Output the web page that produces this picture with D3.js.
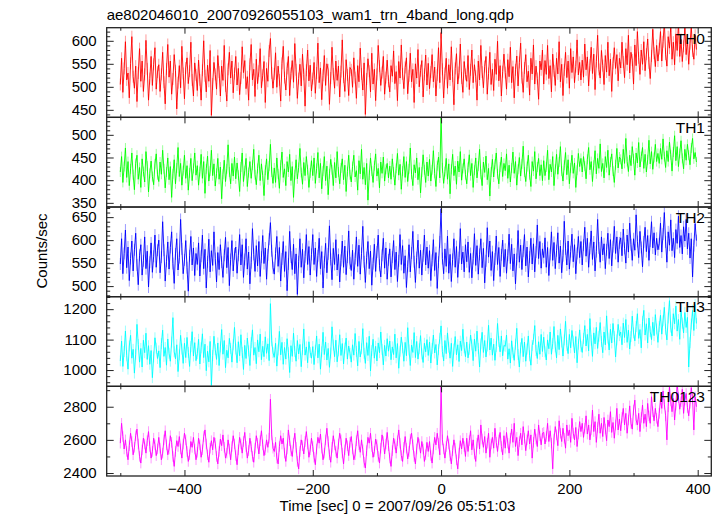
<!DOCTYPE html>
<html><head><meta charset="utf-8">
<script src="https://cdn.jsdelivr.net/npm/d3@7"></script>
<style>body{margin:0;background:#fff}svg{display:block}text{font-family:"Liberation Sans",Arial,sans-serif}</style>
</head><body><svg id="c" width="724" height="516"></svg>
<script>
const title = "ae802046010_20070926055103_wam1_trn_4band_long.qdp";
const xLabel = "Time [sec] 0 = 2007/09/26 05:51:03";
const yLabel = "Counts/sec";
const bandNames = ["TH0","TH1","TH2","TH3","TH0123"];
const bandColors = ["#ff0000","#00ff00","#0000ff","#00ffff","#ff00ff"];
const yDomains = [[433.6,628.5],[340.8,538.5],[477,672],[946.5,1241],[2382,2923]];
const yMajor = [50,50,50,100,200];
const yMinor = [10,10,10,20,100];
const xDomain = [-521.2,421.2];
const xTicksMajor = [-400,-200,0,200,400];
const xTicksMinor = [-500,-300,-100,100,300];
const tStart = -500, tStep = 2;
const errHalf = [13,11,13,18,32];

const th0 = [
505,562,488,540,598,515,530,476,551,609,522,497,545,468,530,583,512,556,490,527,601,539,471,518,566,503,549,585,495,532,
548,490,527,575,510,463,539,592,521,556,484,517,570,535,452,509,546,498,588,529,474,541,563,507,534,597,515,480,552,526,
492,558,515,471,536,600,524,489,547,512,579,438,506,553,527,495,568,532,480,545,514,590,502,469,538,575,519,556,487,529,
566,504,540,483,519,587,531,557,496,522,471,549,592,515,538,479,560,507,534,583,498,525,555,466,540,512,578,605,530,497,
528,574,499,545,515,469,551,588,520,493,540,566,481,529,557,510,594,537,475,518,549,502,571,527,458,536,580,513,547,491,
518,553,486,530,595,509,541,472,525,568,503,550,537,462,519,586,528,497,556,514,545,478,533,602,521,490,559,526,481,542,
537,499,563,520,475,546,511,584,528,493,552,440,517,561,534,489,573,506,538,470,527,590,545,503,531,566,484,520,558,512,
489,546,523,578,507,533,470,555,519,591,528,496,542,563,485,524,573,511,538,466,550,519,581,500,535,557,478,527,569,504,
551,496,532,570,511,543,480,526,585,509,618,538,476,529,562,497,548,515,587,523,461,540,572,506,531,593,519,488,555,527,
512,568,494,537,580,509,548,523,471,556,515,590,532,498,544,566,484,529,575,505,538,492,560,527,599,513,546,480,533,571,
531,495,559,522,586,509,544,476,537,567,502,553,595,520,488,541,570,511,534,482,562,528,591,506,545,518,473,556,537,580,
506,557,527,590,518,546,489,571,535,503,562,528,598,511,549,481,537,575,520,556,497,583,531,565,509,544,602,526,553,515,
558,521,593,537,565,502,547,586,529,571,494,555,612,538,519,579,546,505,568,532,597,524,560,490,551,585,540,570,513,562,
541,597,554,520,583,548,612,530,575,558,506,591,546,620,563,527,580,549,598,535,571,604,552,518,567,625,573,544,590,556,
583,620,556,598,641,571,545,609,584,632,560,597,548,615,579,640,566,603,555,588,628,570,602,549,594,631,578,560,612,581];

const th1 = [
418,452,395,430,471,406,441,388,425,460,412,379,437,455,402,428,384,447,419,396,463,431,374,415,442,408,390,436,458,412,
397,440,413,466,425,383,418,449,401,430,362,414,445,392,427,472,408,437,389,421,455,404,432,378,416,448,399,426,460,411,
432,389,419,457,404,441,371,425,453,398,420,466,410,436,387,415,448,402,429,359,413,444,397,425,478,418,392,437,409,451,
403,438,411,375,429,460,397,421,448,386,417,441,404,433,468,412,390,426,455,399,436,410,366,422,447,401,431,479,418,393,
427,395,449,414,382,433,462,406,425,388,441,418,457,399,430,362,412,445,403,428,470,417,391,439,410,452,423,384,416,443,
410,449,393,426,461,405,437,381,420,452,399,431,368,414,446,423,388,439,405,463,418,392,427,447,401,433,375,419,455,412,
396,430,455,407,421,378,443,414,468,402,428,390,437,356,411,449,420,395,432,458,409,426,383,440,415,451,398,424,437,405,
431,402,447,418,389,426,459,411,435,380,420,452,406,441,397,425,471,413,388,434,416,449,401,428,372,418,456,423,395,440,
409,446,398,423,465,415,386,432,451,405,545,427,393,419,448,402,436,370,424,457,410,431,391,442,418,463,400,426,447,412,
392,428,456,410,437,384,422,449,405,431,468,413,388,440,417,453,401,426,365,418,446,407,435,460,414,392,429,451,408,437,
421,458,404,433,396,427,462,415,441,389,424,450,409,436,475,418,397,430,455,412,386,441,420,463,403,429,448,410,434,399,
443,410,429,466,401,435,418,452,388,424,457,413,440,474,420,398,433,461,412,445,392,427,455,415,438,384,422,459,430,448,
418,452,431,403,446,472,423,441,397,433,465,414,448,426,480,419,437,405,452,428,466,411,440,458,420,395,434,470,427,451,
446,425,468,437,492,441,419,455,432,474,447,411,460,438,483,429,452,472,426,457,418,445,488,436,463,424,450,479,441,459,
437,470,446,491,452,428,465,441,484,456,420,462,498,443,474,430,459,487,448,425,468,444,479,455,434,471,492,447,461,440];

const th2 = [
548,603,527,571,622,540,585,512,560,598,533,579,615,546,503,567,590,524,555,607,538,576,498,552,594,530,565,611,541,578,
600,529,563,640,578,511,554,596,537,584,618,549,506,570,603,535,562,645,581,527,557,599,540,489,566,608,546,583,523,571,
547,594,522,565,611,538,580,496,553,602,531,577,545,618,560,509,573,536,590,552,519,567,606,540,584,501,558,599,533,570,
585,528,567,612,546,590,519,558,603,537,574,505,551,625,569,532,588,544,597,521,563,610,549,583,515,568,602,638,577,540,
526,571,608,543,584,511,559,597,532,575,490,548,619,563,536,591,527,570,482,553,603,541,580,518,564,612,547,586,524,569,
612,547,583,521,566,604,538,575,496,552,593,529,570,631,558,514,582,547,601,535,569,509,556,598,541,587,525,563,620,550,
534,578,515,560,607,543,589,526,571,630,553,508,562,597,538,576,502,549,591,532,574,611,545,520,567,604,539,583,515,557,
581,520,563,599,536,574,510,555,612,547,588,528,566,497,543,590,531,572,619,553,508,562,600,539,578,524,566,611,546,585,
539,577,512,556,601,534,573,495,552,596,668,560,527,581,543,609,528,569,510,558,603,541,586,519,562,625,548,574,531,590,
553,596,530,571,518,560,614,545,588,526,569,603,540,582,507,555,627,563,598,534,575,512,559,609,547,584,521,568,600,542,
580,528,567,613,549,591,533,570,505,558,621,552,589,536,576,612,544,585,520,563,604,548,592,531,574,633,560,597,539,581,
562,605,541,584,523,569,618,556,595,538,577,616,550,587,529,566,641,581,546,598,537,575,613,553,590,527,571,608,562,597,
546,589,628,565,604,541,582,620,558,596,533,575,645,583,552,607,568,592,538,579,615,560,601,544,586,630,571,607,552,594,
605,566,624,582,550,611,574,637,590,556,603,578,655,597,562,619,584,542,596,628,575,610,556,598,640,583,616,568,604,579,
592,637,574,613,660,596,552,618,589,644,577,604,562,623,593,652,584,610,570,629,598,645,581,615,561,603,520,588,636,599];

const th3 = [
1030,1095,1012,1061,1128,1047,1003,1079,1114,1039,1068,990,1052,1150,1084,1026,1071,1010,1098,1057,1121,1035,1080,1019,1064,975,1043,1106,1072,1038,
1063,1008,1087,1131,1045,1074,1016,1102,1055,1029,1092,1172,1060,1037,1083,995,1050,1114,1069,1022,1088,1041,1107,1058,1012,1077,1126,1046,1090,1031,
1054,1101,1020,1073,1119,1041,1085,998,1062,1027,1094,950,1048,1111,1067,1035,1089,1015,1076,1133,1052,1097,1008,1065,1040,1104,1071,1026,1083,1140,
1069,1024,1093,1047,1116,1058,1002,1081,1038,1105,1063,1015,1090,1132,1049,1074,1021,1099,1060,1118,1034,1078,1044,1109,1055,1086,1031,1218,1096,1057,
1042,1088,1013,1066,1127,1050,1091,1019,1074,1036,1103,1057,992,1080,1045,1121,1061,1029,1097,1053,1084,1011,1068,1135,1049,1076,1024,1093,1058,1039,
1077,1018,1065,1112,1040,1085,1003,1060,1124,1051,1092,1033,1071,1009,1056,1142,1082,1044,1098,1027,1063,1116,1048,1087,1020,1072,1105,1036,1079,1055,
1026,1083,1049,1120,1061,1014,1094,1043,1070,1136,1055,1022,1090,1048,1111,997,1064,1101,1039,1078,1030,1089,1057,1125,1068,1017,1081,1046,1103,1062,
1095,1034,1076,1051,1118,1040,1087,1006,1062,1108,1073,1029,1091,1047,1139,1066,1015,1082,1058,1123,1041,1094,1036,1070,1113,1053,1025,1088,1060,1100,
1048,1092,1023,1071,1115,1056,1084,1017,1067,1104,1145,1061,1030,1097,1054,1122,1075,1039,1088,1012,1069,1110,1050,1083,1028,1095,1064,1134,1073,1044,
1092,1040,1068,1115,1083,1031,1102,1062,1128,1071,1010,1086,1124,1058,1097,1043,1079,1147,1066,1105,1049,1085,1032,1077,1153,1094,1060,1112,1047,1081,
1078,1115,1036,1070,1023,1096,1057,1032,1085,1137,1051,1010,1073,1104,1044,1092,1029,1069,1112,1047,1016,1081,1101,1146,1064,1038,1093,1052,1117,1061,
1108,1060,1033,1099,1070,1125,1052,1087,1143,1076,1040,1114,1067,1135,1092,1046,1099,1160,1081,1054,1117,1073,1130,1095,1056,1110,1024,1085,1132,1078,
1058,1104,1146,1079,1117,1063,1169,1098,1045,1122,1086,1140,1071,1111,1156,1094,1057,1125,1083,1178,1105,1066,1134,1089,1153,1110,1043,1099,1150,1113,
1125,1083,1154,1107,1166,1091,1131,1069,1110,1177,1122,1096,1143,1185,1104,1133,1073,1160,1196,1115,1152,1089,1171,1126,1100,1157,1113,1182,1135,1091,
1143,1180,1118,1162,1206,1134,1099,1171,1228,1141,1112,1185,1152,1210,1128,1166,1101,1195,1154,1122,1189,1140,1173,1010,1090,1151,1196,1130,1215,1153];

const th0123 = [
2580,2700,2620,2545,2600,2530,2480,2565,2640,2590,2510,2555,2625,2665,2575,2500,2460,2540,2610,2575,2520,2595,2650,2560,2490,2530,2610,2570,2505,2545,
2615,2550,2480,2520,2600,2655,2570,2510,2545,2625,2585,2500,2440,2530,2595,2560,2620,2545,2490,2575,2640,2600,2530,2470,2510,2590,2555,2615,2545,2480,
2525,2610,2570,2495,2540,2620,2660,2575,2510,2465,2550,2595,2540,2615,2580,2500,2455,2530,2605,2565,2630,2555,2490,2520,2600,2545,2480,2560,2625,2575,
2505,2450,2540,2615,2575,2520,2590,2645,2560,2490,2535,2610,2560,2500,2465,2550,2625,2580,2515,2595,2655,2570,2505,2540,2600,2555,2610,2845,2630,2550,
2530,2585,2490,2455,2560,2625,2575,2610,2520,2470,2545,2660,2595,2535,2500,2580,2640,2555,2470,2425,2530,2600,2565,2515,2590,2650,2575,2495,2540,2610,
2560,2495,2450,2545,2615,2580,2635,2550,2480,2520,2600,2670,2590,2510,2465,2555,2625,2570,2530,2490,2575,2640,2600,2520,2455,2540,2610,2565,2505,2585,
2620,2545,2480,2510,2595,2655,2570,2525,2600,2540,2465,2430,2535,2615,2580,2640,2560,2495,2530,2605,2570,2500,2460,2550,2630,2590,2515,2575,2645,2565,
2490,2440,2535,2610,2575,2520,2595,2660,2580,2505,2470,2555,2620,2550,2485,2530,2605,2640,2570,2500,2455,2545,2615,2575,2520,2590,2545,2470,2510,2585,
2530,2590,2505,2460,2545,2615,2570,2640,2580,2510,2925,2600,2545,2490,2560,2625,2575,2505,2455,2535,2600,2550,2480,2425,2520,2595,2545,2610,2560,2500,
2610,2530,2595,2655,2540,2600,2515,2470,2580,2630,2545,2690,2605,2555,2620,2520,2580,2640,2495,2575,2615,2550,2670,2585,2530,2600,2645,2560,2510,2625,
2550,2645,2580,2520,2610,2665,2585,2700,2560,2615,2505,2590,2640,2570,2680,2610,2535,2600,2655,2575,2630,2490,2585,2665,2605,2560,2690,2625,2570,2640,
2645,2575,2620,2700,2590,2655,2580,2425,2605,2680,2630,2565,2715,2640,2590,2670,2610,2550,2690,2625,2660,2585,2730,2640,2600,2675,2560,2635,2710,2650,
2700,2615,2670,2745,2635,2690,2600,2660,2780,2650,2710,2585,2675,2755,2640,2700,2620,2735,2665,2595,2720,2680,2770,2645,2705,2610,2690,2790,2660,2725,
2655,2735,2790,2690,2760,2640,2720,2805,2700,2665,2780,2840,2720,2690,2760,2650,2735,2810,2700,2755,2680,2820,2745,2700,2860,2770,2715,2790,2730,2680,
2760,2845,2790,2895,2815,2745,2600,2800,2920,2835,2770,2850,2720,2810,2940,2855,2785,2830,2905,2760,2840,2880,2795,2745,2820,2915,2850,2660,2860,2800];

const series = [th0, th1, th2, th3, th0123];

const svg = d3.select("#c");
const L = 106.7, R = 711.3, T0 = 27.7, PH = 89.66;
const x = d3.scaleLinear().domain(xDomain).range([L, R]);
const frame = "#222";
const FONT = "Liberation Sans, Arial, sans-serif";

svg.append("text").attr("x", L).attr("y", 20).attr("font-size", 15).attr("fill", "#000").text(title);

series.forEach((vals, k) => {
  const top = T0 + k * PH, bot = top + PH;
  const y = d3.scaleLinear().domain(yDomains[k]).range([bot, top]);
  const g = svg.append("g");
  const cid = "clip" + k;
  svg.append("clipPath").attr("id", cid).append("rect").attr("x", L).attr("y", top).attr("width", R - L).attr("height", PH);
  const data = vals.map((v, i) => ({t: tStart + i * tStep, v}));
  const dg = g.append("g").attr("clip-path", `url(#${cid})`);
  dg.selectAll("line.err").data(data).join("line").attr("class", "err")
    .attr("x1", d => x(d.t)).attr("x2", d => x(d.t))
    .attr("y1", d => y(d.v - errHalf[k])).attr("y2", d => y(d.v + errHalf[k]))
    .attr("stroke", bandColors[k]).attr("stroke-opacity", 0.4).attr("stroke-width", 1);
  dg.append("path").datum(data)
    .attr("d", d3.line().x(d => x(d.t)).y(d => y(d.v)))
    .attr("fill", "none").attr("stroke", bandColors[k]).attr("stroke-width", 0.9);

  const styleAx = s => { s.select(".domain").remove(); s.selectAll("line").attr("stroke", frame); };
  [[d3.axisBottom, bot], [d3.axisTop, top]].forEach(([fn, yy]) => {
    const labelled = (k === 4 && yy === bot);
    const a1 = g.append("g").attr("transform", `translate(0,${yy})`)
      .call(fn(x).tickValues(xTicksMajor).tickSize(-6).tickPadding(7).tickFormat(labelled ? null : ""));
    const a2 = g.append("g").attr("transform", `translate(0,${yy})`)
      .call(fn(x).tickValues(xTicksMinor).tickSize(-3).tickFormat(""));
    styleAx(a1); styleAx(a2);
    if (labelled) a1.selectAll("text").attr("font-size", 15).attr("fill", "#000").attr("font-family", FONT);
  });
  const [lo, hi] = yDomains[k];
  const majors = d3.range(Math.ceil(lo / yMajor[k]) * yMajor[k], hi, yMajor[k]);
  const minors = d3.range(Math.ceil(lo / yMinor[k]) * yMinor[k], hi, yMinor[k]).filter(v => v % yMajor[k] !== 0);
  const yl = g.append("g").attr("transform", `translate(${L},0)`)
    .call(d3.axisLeft(y).tickValues(majors).tickSize(-7).tickPadding(10).tickFormat(d3.format("d")));
  styleAx(yl);
  yl.selectAll("text").attr("font-size", 15).attr("fill", "#000").attr("font-family", FONT);
  const yl2 = g.append("g").attr("transform", `translate(${L},0)`)
    .call(d3.axisLeft(y).tickValues(minors).tickSize(-3.5).tickFormat(""));
  styleAx(yl2);
  const yr = g.append("g").attr("transform", `translate(${R},0)`)
    .call(d3.axisRight(y).tickValues(majors).tickSize(-7).tickFormat(""));
  styleAx(yr);
  const yr2 = g.append("g").attr("transform", `translate(${R},0)`)
    .call(d3.axisRight(y).tickValues(minors).tickSize(-3.5).tickFormat(""));
  styleAx(yr2);

  g.append("rect").attr("x", L).attr("y", top).attr("width", R - L).attr("height", PH)
    .attr("fill", "none").attr("stroke", frame).attr("stroke-width", 1.3);
  g.append("text").attr("x", 705).attr("y", top + 15.8).attr("text-anchor", "end")
    .attr("font-size", 15.5).attr("fill", "#000").text(bandNames[k]);
});

svg.append("text").attr("transform", "translate(47,251) rotate(-90)").attr("text-anchor", "middle")
  .attr("font-size", 15).attr("fill", "#000").text(yLabel);
svg.append("text").attr("x", 397.5).attr("y", 511).attr("text-anchor", "middle")
  .attr("font-size", 15).attr("fill", "#000").text(xLabel);
</script>
</body></html>
